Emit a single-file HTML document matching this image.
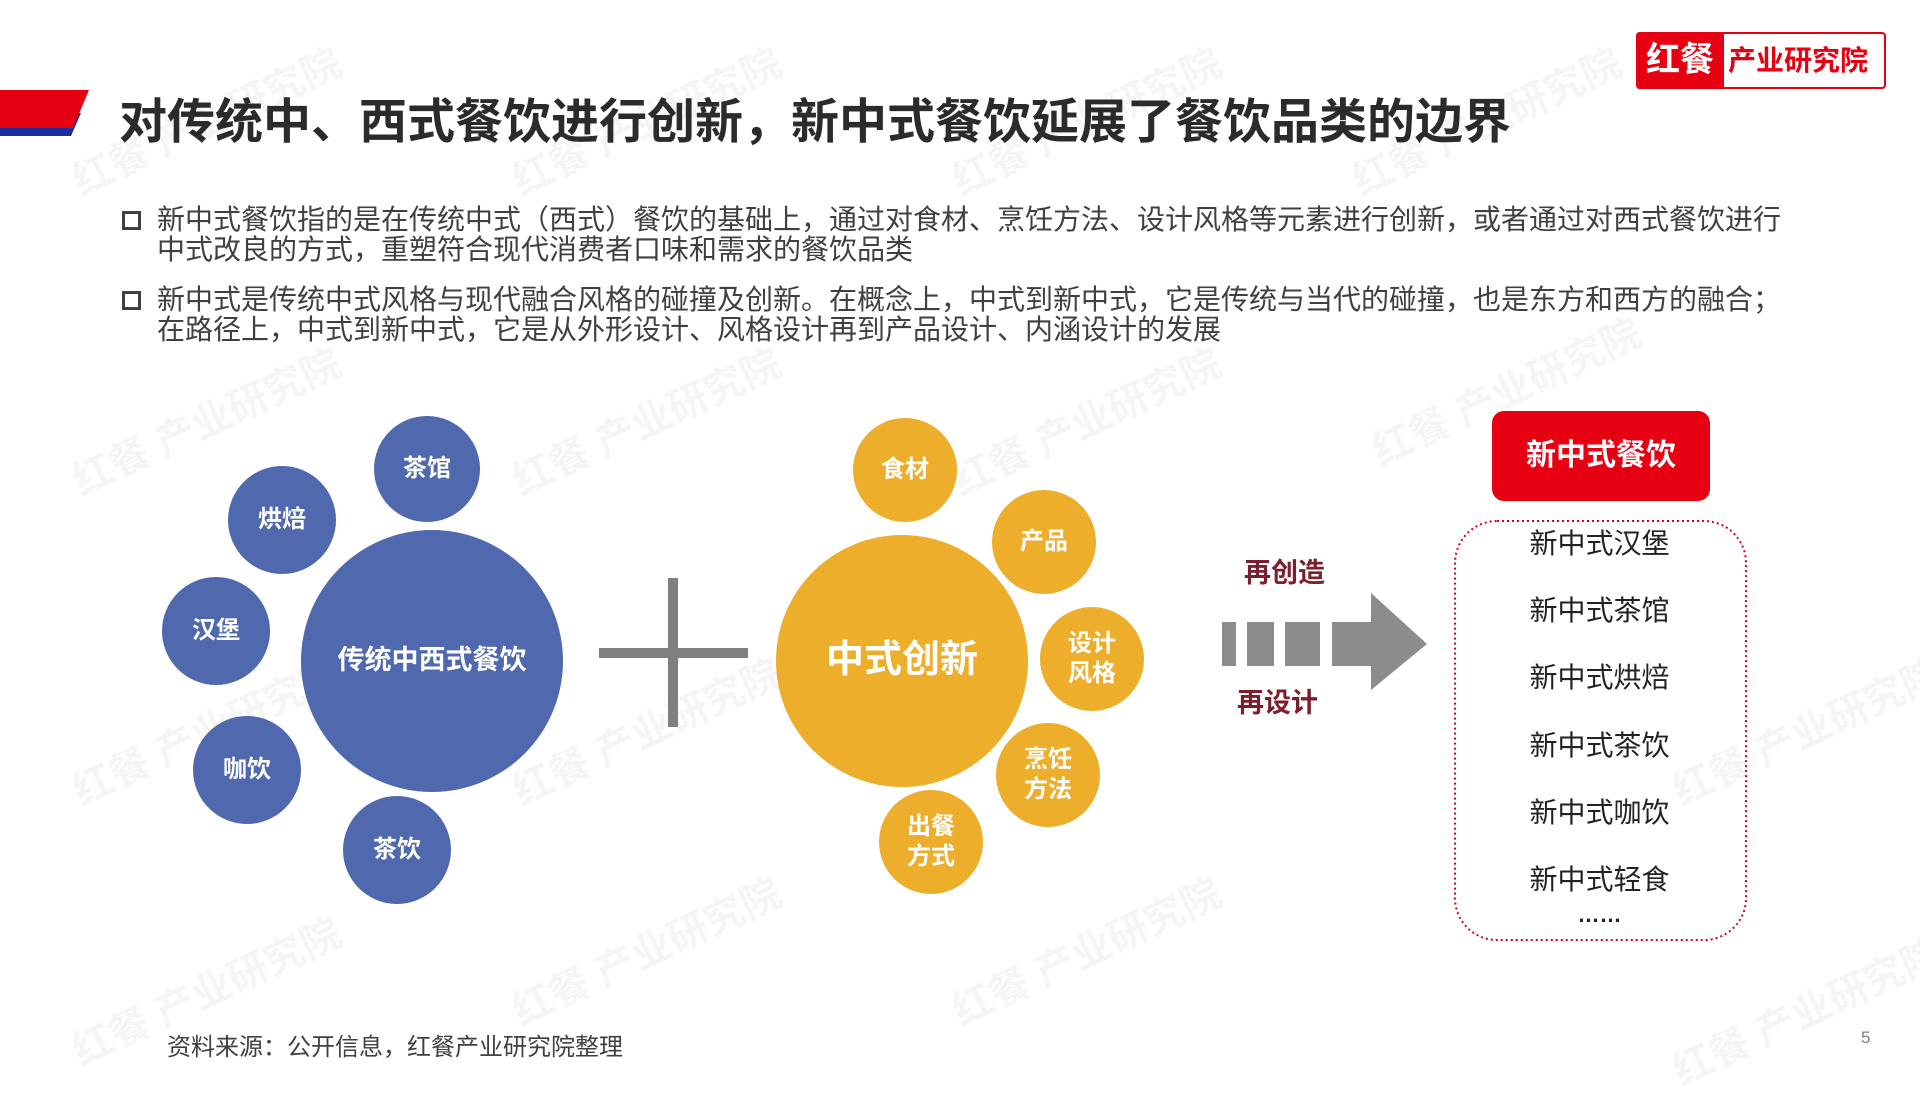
<!DOCTYPE html>
<html><head><meta charset="utf-8"><style>
*{margin:0;padding:0;box-sizing:border-box}
body{width:1920px;height:1080px;position:relative;background:#fff;overflow:hidden;font-family:"Liberation Sans","Noto Sans CJK SC",sans-serif}
.a{position:absolute}
.c{position:absolute;border-radius:50%;display:flex;align-items:center;justify-content:center;color:#fff;font-weight:bold;text-align:center;line-height:1.25}
.b{background:#5069ae}
.o{background:#edae2c}
.t{position:absolute;white-space:nowrap}
.bul{position:absolute;left:157px;font-size:28px;color:#404040;line-height:30px;white-space:nowrap}
.sq{position:absolute;left:122px;width:19px;height:19px;border:3px solid #404040}
.it{position:absolute;left:1453px;width:293px;text-align:center;font-size:28px;color:#222;line-height:34px}
.wm{position:absolute;color:rgba(0,0,0,0.04);font-size:40px;font-weight:bold;transform:rotate(-25deg);white-space:nowrap}
</style></head><body>
<div class="wm" style="left:60px;top:90px">红餐 产业研究院</div>
<div class="wm" style="left:500px;top:90px">红餐 产业研究院</div>
<div class="wm" style="left:940px;top:90px">红餐 产业研究院</div>
<div class="wm" style="left:1340px;top:90px">红餐 产业研究院</div>
<div class="wm" style="left:60px;top:390px">红餐 产业研究院</div>
<div class="wm" style="left:500px;top:390px">红餐 产业研究院</div>
<div class="wm" style="left:940px;top:390px">红餐 产业研究院</div>
<div class="wm" style="left:1360px;top:360px">红餐 产业研究院</div>
<div class="wm" style="left:60px;top:700px">红餐 产业研究院</div>
<div class="wm" style="left:500px;top:700px">红餐 产业研究院</div>
<div class="wm" style="left:1660px;top:700px">红餐 产业研究院</div>
<div class="wm" style="left:60px;top:960px">红餐 产业研究院</div>
<div class="wm" style="left:500px;top:920px">红餐 产业研究院</div>
<div class="wm" style="left:940px;top:920px">红餐 产业研究院</div>
<div class="wm" style="left:1660px;top:980px">红餐 产业研究院</div>

<svg class="a" style="left:0;top:0" width="1920" height="1080">
<polygon points="0,113 81,113 71,136 0,136" fill="#1a2f9c"/>
<polygon points="0,90 89,90 73,128 0,128" fill="#e60012"/>
<rect x="599" y="648" width="149" height="10" fill="#7f7f7f"/>
<rect x="668" y="578" width="10" height="149" fill="#7f7f7f"/>
<rect x="1222" y="622" width="14" height="44" fill="#8c8c8c"/>
<rect x="1247" y="622" width="27" height="44" fill="#8c8c8c"/>
<rect x="1285" y="622" width="35" height="44" fill="#8c8c8c"/>
<polygon points="1332,622 1371,622 1371,593 1427,644 1371,690 1371,666 1332,666" fill="#8c8c8c"/>
<rect x="1455" y="521" width="291" height="419" rx="42" fill="none" stroke="#d9001b" stroke-width="2" stroke-dasharray="2,3"/>
</svg>

<div class="t" style="left:119px;top:82px;font-size:48px;font-weight:bold;color:#2b2b2b">对传统中、西式餐饮进行创新，新中式餐饮延展了餐饮品类的边界</div>

<div class="a" style="left:1636px;top:32px;width:250px;height:57px;border:2px solid #e60012;border-radius:4px;background:#fff"></div>
<div class="a" style="left:1636px;top:32px;width:88px;height:57px;background:#e60012;border-radius:4px 0 0 4px;color:#fff;font-size:34px;font-weight:bold;text-align:center;line-height:57px">红餐</div>
<div class="t" style="left:1728px;top:32px;line-height:57px;font-size:28px;font-weight:bold;color:#e60012">产业研究院</div>

<div class="sq" style="top:211px"></div>
<div class="bul" style="top:205px">新中式餐饮指的是在传统中式（西式）餐饮的基础上，通过对食材、烹饪方法、设计风格等元素进行创新，或者通过对西式餐饮进行<br>中式改良的方式，重塑符合现代消费者口味和需求的餐饮品类</div>
<div class="sq" style="top:291px"></div>
<div class="bul" style="top:285px">新中式是传统中式风格与现代融合风格的碰撞及创新。在概念上，中式到新中式，它是传统与当代的碰撞，也是东方和西方的融合；<br>在路径上，中式到新中式，它是从外形设计、风格设计再到产品设计、内涵设计的发展</div>

<div class="c b" style="left:301px;top:530px;width:262px;height:262px;font-size:27px">传统中西式餐饮</div>
<div class="c b" style="left:374px;top:416px;width:106px;height:106px;font-size:24px">茶馆</div>
<div class="c b" style="left:228px;top:466px;width:108px;height:108px;font-size:24px">烘焙</div>
<div class="c b" style="left:162px;top:577px;width:108px;height:108px;font-size:24px">汉堡</div>
<div class="c b" style="left:193px;top:716px;width:108px;height:108px;font-size:24px">咖饮</div>
<div class="c b" style="left:343px;top:796px;width:108px;height:108px;font-size:24px">茶饮</div>

<div class="c o" style="left:776px;top:535px;width:252px;height:252px;font-size:38px">中式创新</div>
<div class="c o" style="left:853px;top:418px;width:104px;height:104px;font-size:24px">食材</div>
<div class="c o" style="left:992px;top:490px;width:104px;height:104px;font-size:24px">产品</div>
<div class="c o" style="left:1040px;top:607px;width:104px;height:104px;font-size:24px">设计<br>风格</div>
<div class="c o" style="left:996px;top:723px;width:104px;height:104px;font-size:24px">烹饪<br>方法</div>
<div class="c o" style="left:879px;top:790px;width:104px;height:104px;font-size:24px">出餐<br>方式</div>

<div class="t" style="left:1244px;top:551px;font-size:27px;font-weight:bold;color:#7b1f2e">再创造</div>
<div class="t" style="left:1237px;top:681px;font-size:27px;font-weight:bold;color:#7b1f2e">再设计</div>

<div class="a" style="left:1492px;top:411px;width:218px;height:90px;background:#e60012;border-radius:12px;color:#fff;font-size:30px;font-weight:bold;text-align:center;line-height:90px">新中式餐饮</div>
<div class="it" style="top:527px">新中式汉堡</div>
<div class="it" style="top:594px">新中式茶馆</div>
<div class="it" style="top:661px">新中式烘焙</div>
<div class="it" style="top:729px">新中式茶饮</div>
<div class="it" style="top:796px">新中式咖饮</div>
<div class="it" style="top:863px">新中式轻食</div>
<div class="it" style="top:898px;font-size:22px;font-weight:bold">……</div>

<div class="t" style="left:167px;top:1027px;font-size:24px;color:#404040">资料来源：公开信息，红餐产业研究院整理</div>
<div class="t" style="left:1861px;top:1028px;font-size:17px;color:#7f7f7f">5</div>
</body></html>
